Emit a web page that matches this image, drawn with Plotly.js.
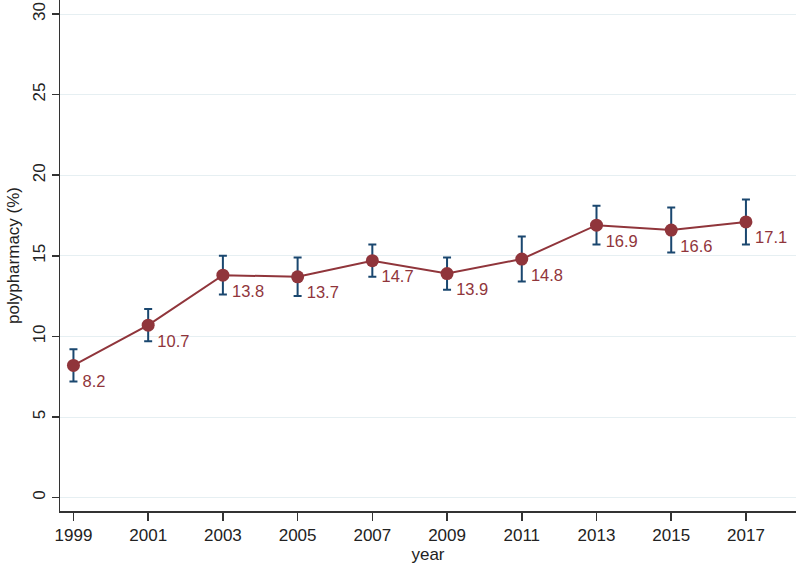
<!DOCTYPE html>
<html>
<head>
<meta charset="utf-8">
<script src="https://cdn.plot.ly/plotly-3.0.1.min.js"></script>
<style>
  html, body { margin: 0; padding: 0; background: #fff; }
  #chart { width: 797px; height: 566px; }
</style>
</head>
<body>
<div id="chart"></div>
<script>
// polypharmacy prevalence by survey year, with 95% CI
const years = [1999, 2001, 2003, 2005, 2007, 2009, 2011, 2013, 2015, 2017];
const pct = [8.2, 10.7, 13.8, 13.7, 14.7, 13.9, 14.8, 16.9, 16.6, 17.1];
const ciUpper = [9.2, 11.7, 15.0, 14.9, 15.7, 14.9, 16.2, 18.1, 18.0, 18.5];
const ciLower = [7.2, 9.7, 12.6, 12.5, 13.7, 12.9, 13.4, 15.7, 15.2, 15.7];
const yTicks = [0, 5, 10, 15, 20, 25, 30];

const maroon = '#90353b';
const navy = '#1a476f';

const trace = {
    x: years,
    y: pct,
    type: 'scatter',
    mode: 'lines+markers+text',
    text: pct.map(v => v.toFixed(1)),
    textposition: 'bottom right',
    textfont: { family: 'Liberation Sans, Arial, sans-serif', size: 16.5, color: maroon },
    line: { color: maroon, width: 2 },
    marker: { color: maroon, size: 13 },
    error_y: {
        type: 'data',
        symmetric: false,
        array: ciUpper.map((u, i) => u - pct[i]),
        arrayminus: pct.map((p, i) => p - ciLower[i]),
        color: navy,
        thickness: 2,
        width: 4
    },
    cliponaxis: false,
    hoverinfo: 'x+y'
};

const layout = {
    width: 797,
    height: 566,
    paper_bgcolor: '#ffffff',
    plot_bgcolor: '#ffffff',
    font: { family: 'Liberation Sans, Arial, sans-serif', color: '#222', size: 17 },
    margin: { l: 60, r: 1, t: 0, b: 55 },
    showlegend: false,
    xaxis: {
        range: [1998.64, 2018.34],
        tickvals: years,
        ticks: 'outside',
        ticklen: 8,
        tickwidth: 1.5,
        tickcolor: '#333',
        showline: true,
        linecolor: '#333',
        linewidth: 1.5,
        showgrid: false,
        zeroline: false,
        tickfont: { size: 17 },
        title: { text: 'year', font: { size: 17 }, standoff: 2 }
    },
    yaxis: {
        range: [-0.83, 30.87],
        tickvals: yTicks,
        tickangle: -90,
        ticks: 'outside',
        ticklen: 7,
        tickwidth: 1.5,
        tickcolor: '#333',
        showline: true,
        linecolor: '#333',
        linewidth: 1.5,
        showgrid: true,
        gridcolor: '#e6eff2',
        gridwidth: 1,
        zeroline: false,
        tickfont: { size: 17 },
        title: { text: 'polypharmacy (%)', font: { size: 17 }, standoff: 6 }
    }
};

Plotly.newPlot('chart', [trace], layout, { displayModeBar: false, staticPlot: true });
</script>
</body>
</html>
